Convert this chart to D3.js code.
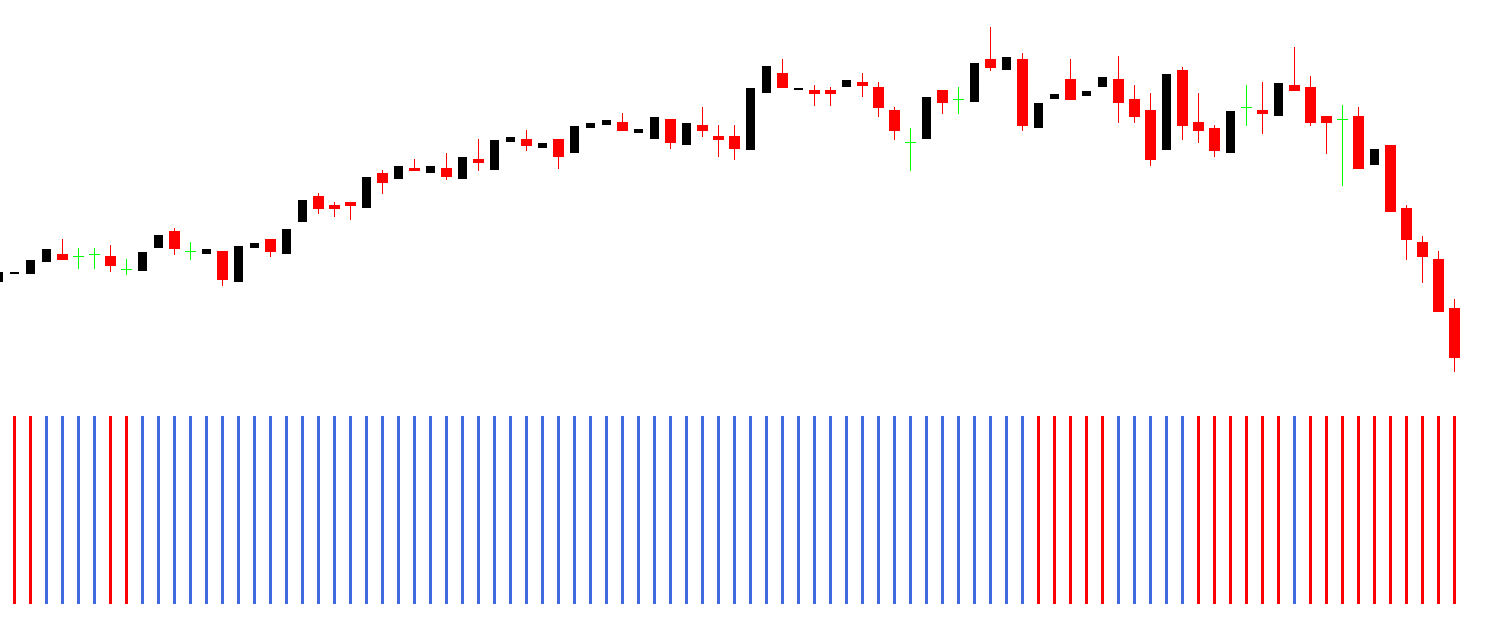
<!DOCTYPE html>
<html>
<head>
<meta charset="utf-8">
<script src="https://cdn.jsdelivr.net/npm/d3@7"></script>
<style>
  html, body { margin: 0; padding: 0; background: #ffffff; }
  svg { display: block; }
</style>
</head>
<body>
<svg id="chart" width="1506" height="632"></svg>
<script>
// ---- Data ----
const opens  = [31.83,32.63,32.6,33.8,34.6,34.4,34.6,34.4,33.13,32.9,35.2,36.9,34.9,34.6,34.9,31.8,35.2,36.1,34.6,37.8,
                40.4,39.5,39.8,39.2,42.7,42.1,43.2,42.7,43.2,42.1,44.1,43,45.8,46.1,45.2,46.1,44.7,47.2,47.5,47.8,
                46.7,46.1,48.1,45.5,47.5,46.4,46.4,45,50.7,52.7,51,51,51,51.3,51.8,51.3,49,45.77,46.1,51,
                50.07,49.8,54.1,53,54.1,47.2,50.1,52.1,50.4,51.3,52.1,50.1,49,45,53,47.8,47.2,44.7,49.27,49,
                48.4,51.5,51.3,48.4,48.07,48.4,43.5,45.5,39.2,35.8,34.1,29.2];
const highs  = [32.8,32.83,34,35.1,36.1,35.2,35.2,35.5,34.1,34.8,36.5,37.2,35.8,35.1,34.9,35.4,35.7,36.1,37.1,40,
                40.7,39.8,39.8,42.3,43,43.4,44.1,43.4,44.7,44.3,46.1,46,46.3,47,45.7,46.1,47.4,47.7,48,48.7,
                47.1,48.3,48.1,47.7,49.3,47.5,47.5,51.2,53.4,54.1,51.2,51.5,51.3,52,52.7,51.8,49.3,47.2,50.3,51,
                51.3,53.7,57.3,54.3,54.7,49.7,50.6,54.1,50.9,52.3,54.4,51.5,50.7,52.6,53.3,50.7,47.5,48.9,51.5,51.8,
                51.7,55.3,52.4,48.4,49.5,49.3,45.1,45.5,39.5,36.4,34.9,30.1];
const lows   = [31.83,32.63,32.6,33.8,34,33.13,33.13,32.83,32.53,32.9,35.2,34.53,34.03,34.6,31.4,31.8,35.2,34.3,34.6,37.8,
                38.63,38.33,38.03,39.2,40.6,42.1,42.9,42.7,42,42.1,42.9,43,45.8,44.9,45.2,43.1,44.7,47.2,47.5,46.9,
                46.7,46.1,45.1,45.5,46.3,44.3,44,45,50.7,51.2,51,49.4,49.4,51.3,50.3,48.3,46,42.9,46.1,48.6,
                48.6,49.8,52.9,53,46.9,47.2,50.1,50,50.4,51.3,47.7,47.7,43.4,45,46,45.7,44.3,44.7,47.4,46.6,
                48.4,50.9,47.4,44.6,41.4,43.1,43.5,38.8,34,31.7,28.8,22.8];
const closes = [32.8,32.83,34,35.1,34,34.4,34.6,33.4,33.13,34.8,36.5,35.1,34.9,35.1,32,35.4,35.7,34.8,37.1,40,
                39.13,39.13,39.4,42.3,41.7,43.4,42.9,43.4,42.3,44.3,43.7,46,46.3,45.4,45.7,44.3,47.4,47.7,48,46.9,
                47.1,48.3,45.7,47.7,46.9,46,45.1,51.2,53.4,51.2,51.2,50.6,50.6,52,51.4,49.2,46.9,45.77,50.3,49.7,
                50.07,53.7,53.2,54.3,47.4,49.7,50.6,50,50.9,52.3,49.7,48.3,44,52.6,47.4,46.9,44.9,48.9,49.27,48.6,
                51.7,50.9,47.7,47.7,48.07,43.1,45.1,38.8,36,34.3,28.8,24.2];
// Trend signal histogram: 1 = up (blue), -1 = down (red)
const signal = [-1,-1,-1,1,1,1,1,-1,-1,1, 1,1,1,1,1,1,1,1,1,1,
                1,1,1,1,1,1,1,1,1,1, 1,1,1,1,1,1,1,1,1,1,
                1,1,1,1,1,1,1,1,1,1, 1,1,1,1,1,1,1,1,1,1,
                1,1,1,1,1,-1,-1,-1,-1,-1, 1,1,1,1,1,-1,-1,-1,-1,-1,
                -1,1,-1,-1,-1,-1,-1,-1,-1,-1, -1,-1];

const data = opens.map((o, i) => ({ i, o, h: highs[i], l: lows[i], c: closes[i], s: signal[i] }));

// ---- Layout ----
const svg = d3.select("#chart");
const x = d3.scaleLinear().domain([0, data.length - 1]).range([-1.5, -1.5 + 16 * (data.length - 1)]);
const y = d3.scaleLinear()
  .domain([d3.min(lows), d3.max(highs)])
  .range([372, 27]);
const ySig = d3.scaleLinear().domain([0, 1]).range([604, 416]);

const colorOf = d => d.c > d.o ? "#000000" : (d.c < d.o ? "#ff0000" : "#00ff00");

// ---- Candles ----
const g = svg.append("g").attr("shape-rendering", "crispEdges");

// wicks (1px rects)
g.selectAll("rect.wick").data(data).join("rect")
  .attr("class", "wick")
  .attr("x", d => Math.floor(x(d.i)))
  .attr("width", 1)
  .attr("y", d => Math.round(y(d.h)))
  .attr("height", d => Math.max(1, Math.round(y(d.l)) - Math.round(y(d.h))))
  .attr("fill", colorOf);

// bodies (non-doji)
g.selectAll("rect.body").data(data.filter(d => d.c !== d.o)).join("rect")
  .attr("class", "body")
  .attr("x", d => d.c > d.o ? x(d.i) - 4.5 : x(d.i) - 5.5)
  .attr("width", d => d.c > d.o ? 9 : 11)
  .attr("y", d => Math.round(y(Math.max(d.o, d.c))))
  .attr("height", d => Math.max(2, Math.round(Math.abs(y(d.o) - y(d.c)))))
  .attr("fill", colorOf);

// doji crosses (horizontal bar)
g.selectAll("rect.doji").data(data.filter(d => d.c === d.o)).join("rect")
  .attr("class", "doji")
  .attr("x", d => x(d.i) - 5.5)
  .attr("width", 11)
  .attr("y", d => Math.round(y(d.o)))
  .attr("height", 1)
  .attr("fill", "#00ff00");

// ---- Signal histogram ----
svg.append("g").attr("shape-rendering", "crispEdges")
  .selectAll("rect").data(data).join("rect")
  .attr("x", d => x(d.i) - 1.5)
  .attr("width", 3)
  .attr("y", d => ySig(Math.abs(d.s)))
  .attr("height", d => ySig(0) - ySig(Math.abs(d.s)))
  .attr("fill", d => d.s > 0 ? "#4169e1" : "#ff0000");
</script>
</body>
</html>
